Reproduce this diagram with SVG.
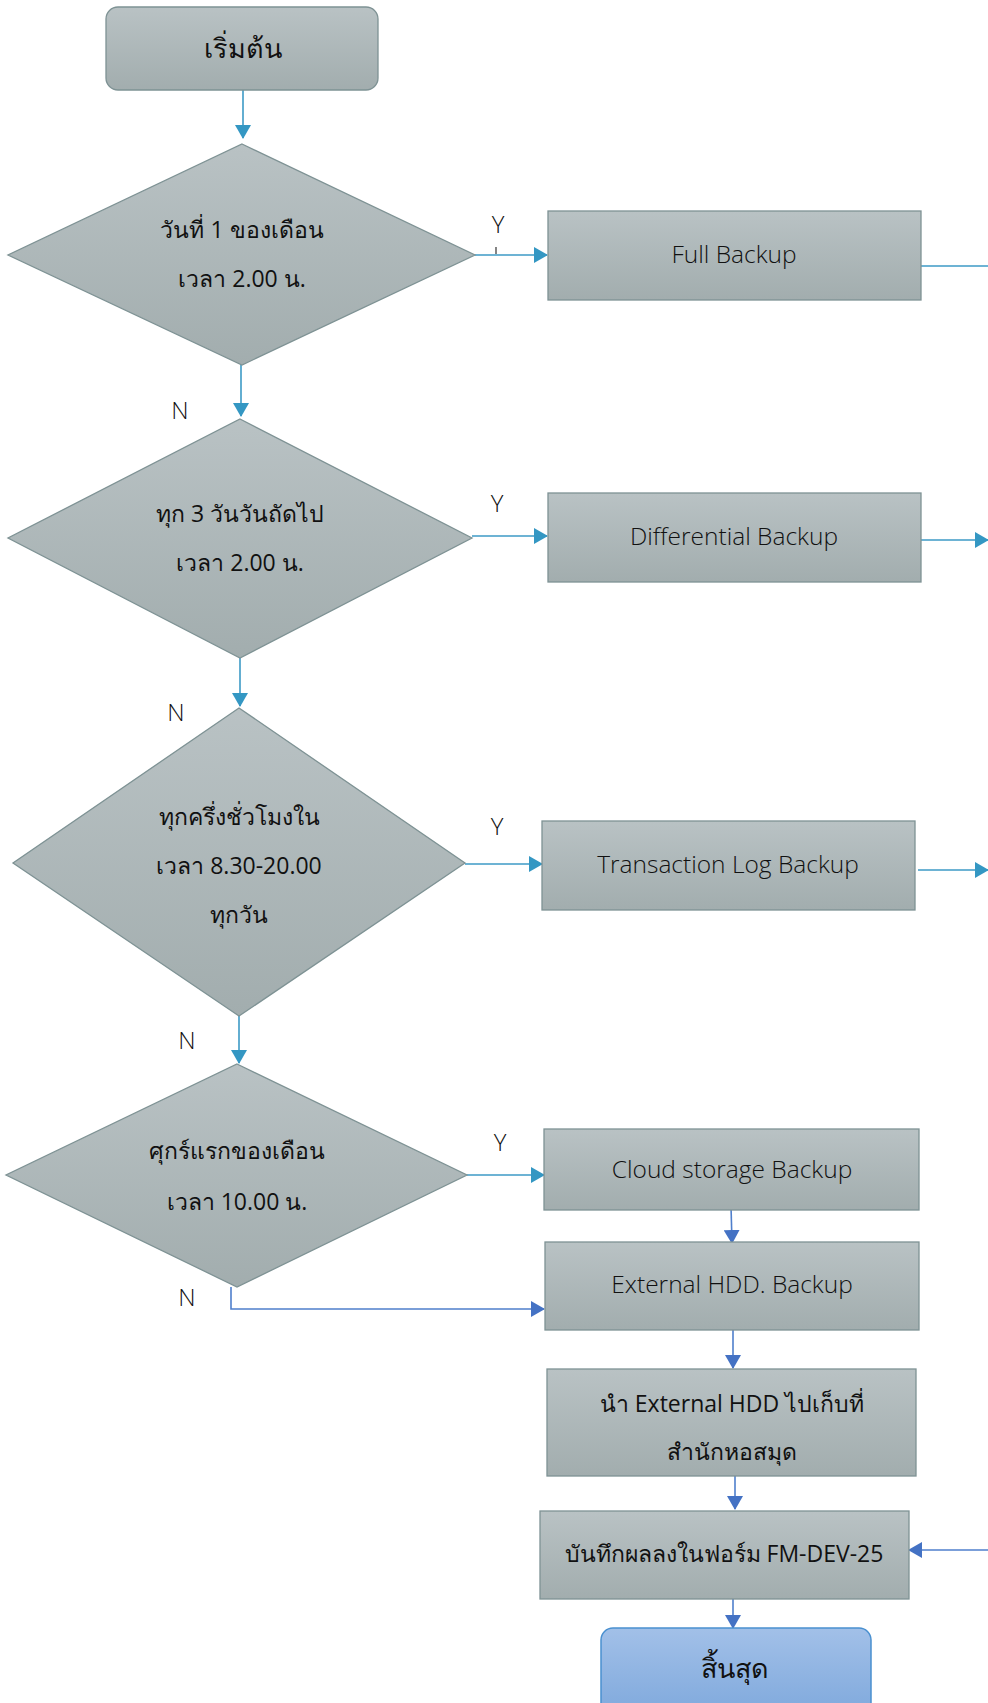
<svg xmlns="http://www.w3.org/2000/svg" width="988" height="1703" viewBox="0 0 988 1703">
<defs>
<linearGradient id="g" x1="0" y1="0" x2="0" y2="1"><stop offset="0" stop-color="#B9C2C4"/><stop offset="1" stop-color="#A2ADAE"/></linearGradient>
<linearGradient id="gb" x1="0" y1="0" x2="0" y2="1"><stop offset="0" stop-color="#A2C0E8"/><stop offset="1" stop-color="#7EA8DC"/></linearGradient>
<marker id="at" markerWidth="14" markerHeight="16" refX="13" refY="8" orient="auto" markerUnits="userSpaceOnUse" viewBox="0 0 14 16"><path d="M0,0 L14,8 L0,16 z" fill="#3497C3"/></marker>
<marker id="ab" markerWidth="14" markerHeight="16" refX="13" refY="8" orient="auto" markerUnits="userSpaceOnUse" viewBox="0 0 14 16"><path d="M0,0 L14,8 L0,16 z" fill="#4472C4"/></marker>
</defs>
<style>
.n{fill:url(#g);stroke:#7E9294;stroke-width:1.3}
.e{fill:url(#gb);stroke:#4A90D0;stroke-width:1.5}
.t{font-family:"Open Sans","Noto Sans","Leelawadee UI",sans-serif;font-size:23px;font-weight:400;fill:#111;text-anchor:middle}
.en{font-size:24.5px;font-weight:300}
.big{font-size:27px}
.l{font-family:"Open Sans","Noto Sans",sans-serif;font-size:24px;font-weight:300;fill:#111;text-anchor:middle}
.ct{fill:none;stroke:#3D9AC6;stroke-width:1.6}
.cb{fill:none;stroke:#4F7FCC;stroke-width:1.6}
</style>
<g id="connectors">
<path class="ct" d="M243,90 V138" marker-end="url(#at)"/>
<path class="ct" d="M475,255 H547" marker-end="url(#at)"/>
<path class="ct" d="M921,266 H988"/>
<path class="ct" d="M241,365 V416" marker-end="url(#at)"/>
<path class="ct" d="M472,536 H547" marker-end="url(#at)"/>
<path class="ct" d="M921,540 H988" marker-end="url(#at)"/>
<path class="ct" d="M240,658 V706" marker-end="url(#at)"/>
<path class="ct" d="M465,864 H542" marker-end="url(#at)"/>
<path class="ct" d="M918,870 H988" marker-end="url(#at)"/>
<path class="ct" d="M239,1016 V1063" marker-end="url(#at)"/>
<path class="ct" d="M467,1175 H544" marker-end="url(#at)"/>
<path class="cb" d="M231,1287 V1309 H544" marker-end="url(#ab)"/>
<path class="cb" d="M731,1206 L732,1243" marker-end="url(#ab)"/>
<path class="cb" d="M733,1330 V1368" marker-end="url(#ab)"/>
<path class="cb" d="M735,1476 V1509" marker-end="url(#ab)"/>
<path class="cb" d="M988,1550 H909" marker-end="url(#ab)"/>
<path class="cb" d="M733,1599 V1628" marker-end="url(#ab)"/>
<path d="M496,247 V254" stroke="#333" stroke-width="1.2"/>
<text class="l" x="498" y="233">Y</text>
<text class="l" x="180" y="419">N</text>
<text class="l" x="497" y="512">Y</text>
<text class="l" x="176" y="721">N</text>
<text class="l" x="497" y="835">Y</text>
<text class="l" x="187" y="1049">N</text>
<text class="l" x="500" y="1151">Y</text>
<text class="l" x="187" y="1306">N</text>
</g>
<g id="start"><rect class="n" x="106" y="7" width="272" height="83" rx="12"/><text class="t big" x="243" y="58">เริ่มต้น</text></g>
<g id="d1"><polygon class="n" points="242,144 475,255 242,365 8,255"/><text class="t" x="242" y="238">วันที่ 1 ของเดือน</text><text class="t" x="242" y="287">เวลา 2.00 น.</text></g>
<g id="full"><rect class="n" x="548" y="211" width="373" height="89"/><text class="t en" x="734" y="263">Full Backup</text></g>
<g id="d2"><polygon class="n" points="240,419 472,538 240,658 8,538"/><text class="t" x="240" y="522">ทุก 3 วันวันถัดไป</text><text class="t" x="240" y="571">เวลา 2.00 น.</text></g>
<g id="diff"><rect class="n" x="548" y="493" width="373" height="89"/><text class="t en" x="734" y="545">Differential Backup</text></g>
<g id="d3"><polygon class="n" points="239,708 465,863 239,1016 13,863"/><text class="t" x="239" y="825">ทุกครึ่งชั่วโมงใน</text><text class="t" x="239" y="874">เวลา 8.30-20.00</text><text class="t" x="239" y="923">ทุกวัน</text></g>
<g id="trans"><rect class="n" x="542" y="821" width="373" height="89"/><text class="t en" x="728" y="873">Transaction Log Backup</text></g>
<g id="d4"><polygon class="n" points="237,1064 467,1175 237,1287 6,1175"/><text class="t" x="237" y="1159">ศุกร์แรกของเดือน</text><text class="t" x="237" y="1210">เวลา 10.00 น.</text></g>
<g id="cloud"><rect class="n" x="544" y="1129" width="375" height="81"/><text class="t en" x="732" y="1178">Cloud storage Backup</text></g>
<g id="ext"><rect class="n" x="545" y="1242" width="374" height="88"/><text class="t en" x="732" y="1293">External HDD. Backup</text></g>
<g id="move"><rect class="n" x="547" y="1369" width="369" height="107"/><text class="t" x="732" y="1412">นำ External HDD ไปเก็บที่</text><text class="t" x="732" y="1460">สำนักหอสมุด</text></g>
<g id="record"><rect class="n" x="540" y="1511" width="369" height="88"/><text class="t" x="724" y="1562">บันทึกผลลงในฟอร์ม FM-DEV-25</text></g>
<g id="end"><rect class="e" x="601" y="1628" width="270" height="90" rx="12"/><text class="t big" x="735" y="1678">สิ้นสุด</text></g>
</svg>
